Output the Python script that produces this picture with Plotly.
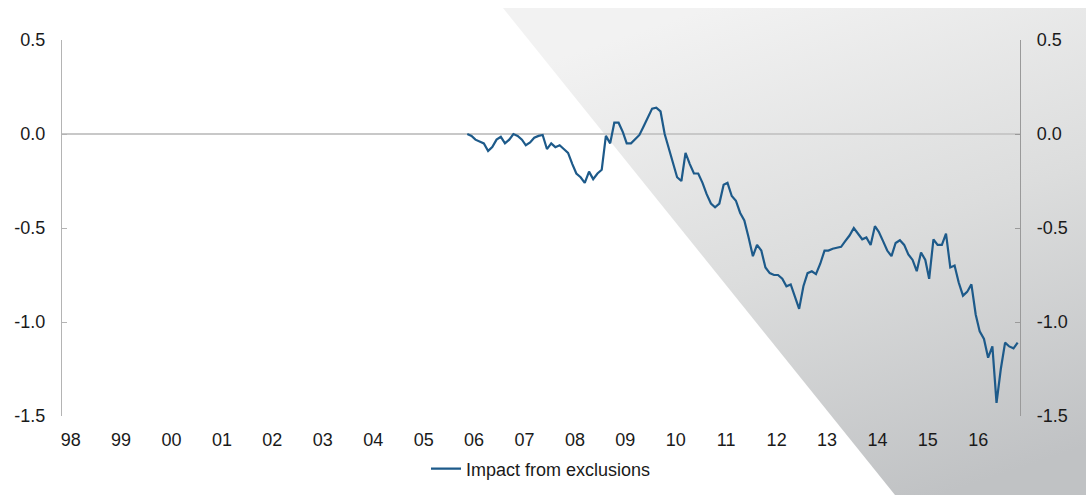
import base64
import pandas as pd
import plotly.graph_objects as go

# Monthly series, Jan 2006 - Dec 2016 (percentage points)
start_month = "2006-01-01"
impact_from_exclusions = [
    0.00, -0.01, -0.03, -0.04, -0.05, -0.09, -0.07, -0.03, -0.015, -0.05, -0.03, 0.00,
    -0.01, -0.03, -0.06, -0.045, -0.02, -0.01, -0.005, -0.08, -0.05, -0.07, -0.06, -0.08,
    -0.10, -0.16, -0.21, -0.23, -0.26, -0.20, -0.24, -0.21, -0.19, -0.01, -0.05, 0.06,
    0.06, 0.01, -0.05, -0.05, -0.03, -0.005, 0.04, 0.09, 0.135, 0.14, 0.12, 0.00,
    -0.08, -0.15, -0.23, -0.25, -0.10, -0.16, -0.21, -0.21, -0.26, -0.32, -0.37, -0.39,
    -0.37, -0.27, -0.26, -0.33, -0.355, -0.42, -0.46, -0.55, -0.65, -0.59, -0.62, -0.71,
    -0.74, -0.75, -0.75, -0.77, -0.81, -0.80, -0.87, -0.93, -0.81, -0.74, -0.73, -0.745,
    -0.69, -0.62, -0.62, -0.61, -0.605, -0.60, -0.57, -0.54, -0.50, -0.53, -0.56, -0.55,
    -0.59, -0.49, -0.52, -0.57, -0.62, -0.65, -0.58, -0.565, -0.59, -0.64, -0.67, -0.73,
    -0.63, -0.67, -0.77, -0.56, -0.59, -0.59, -0.53, -0.71, -0.70, -0.79, -0.86, -0.84,
    -0.80, -0.96, -1.05, -1.09, -1.19, -1.13, -1.43, -1.25, -1.11, -1.13, -1.14, -1.11,
]
years = list(range(1998, 2017))
year_labels = [f"{y % 100:02d}" for y in years]
y_ticks = [0.5, 0.0, -0.5, -1.0, -1.5]
y_tick_labels = ["0.5", "0.0", "-0.5", "-1.0", "-1.5"]

dates = pd.date_range(start_month, periods=len(impact_from_exclusions), freq="MS") + pd.Timedelta(days=14)

W, H = 1086, 495
ML, MR, MT, MB = 62, 66, 40, 79
PW, PH = W - ML - MR, H - MT - MB

FONT = "Liberation Sans, Arial, Helvetica, sans-serif"
FS = 18
TXT = "#1a1a1a"
AXIS = "#b4b4b4"
LINE = "#1d5a8a"

# Shaded wedge behind the chart, drawn as an inline SVG
svg = f"""<svg xmlns='http://www.w3.org/2000/svg' width='{W}' height='{H}' viewBox='0 0 {W} {H}'>
<defs><linearGradient id='g' x1='0.35' y1='0' x2='0.75' y2='1'>
<stop offset='0' stop-color='#f2f2f2'/><stop offset='0.5' stop-color='#dcdddd'/><stop offset='1' stop-color='#c0c2c4'/>
</linearGradient></defs>
<polygon points='503,8 {W},8 {W},{H} 895,{H}' fill='url(#g)'/>
</svg>"""
svg_uri = "data:image/svg+xml;base64," + base64.b64encode(svg.encode()).decode()

fig = go.Figure()
fig.add_trace(go.Scatter(
    x=dates, y=impact_from_exclusions, mode="lines",
    name="Impact from exclusions",
    line=dict(color=LINE, width=2.2),
))
# carrier trace for the right-hand axis
fig.add_trace(go.Scatter(
    x=dates, y=impact_from_exclusions, yaxis="y2", mode="lines",
    line=dict(color="rgba(0,0,0,0)", width=0), showlegend=False, hoverinfo="skip",
))

fig.update_layout(
    width=W, height=H,
    margin=dict(l=ML, r=MR, t=MT, b=MB, autoexpand=False),
    paper_bgcolor="white", plot_bgcolor="rgba(0,0,0,0)",
    font=dict(family=FONT, size=FS, color=TXT),
    showlegend=True,
    legend=dict(orientation="h", x=0.5, xanchor="center", y=-0.141, yanchor="middle",
                itemwidth=30, font=dict(size=FS, color=TXT), bgcolor="rgba(0,0,0,0)"),
    images=[dict(source=svg_uri, xref="paper", yref="paper",
                 x=-ML / PW, y=(PH + MT) / PH, sizex=W / PW, sizey=H / PH,
                 xanchor="left", yanchor="top", sizing="stretch", layer="below")],
    xaxis=dict(
        type="date", range=["1998-01-01", "2017-01-01"], automargin=False,
        tickmode="array",
        tickvals=[f"{y}-03-05" for y in years], ticktext=year_labels,
        ticks="", showline=False, showgrid=False, zeroline=False,
        ticklabelstandoff=11, tickfont=dict(size=FS, color=TXT),
    ),
    yaxis=dict(
        range=[-1.5, 0.5], automargin=False,
        tickmode="array", tickvals=y_ticks, ticktext=y_tick_labels,
        ticks="inside", ticklen=5, tickcolor=AXIS, tickwidth=1,
        showline=True, linecolor=AXIS, linewidth=1.2,
        showgrid=False, zeroline=True, zerolinecolor="#c8c8c8", zerolinewidth=1.5,
        ticklabelstandoff=12, tickfont=dict(size=FS, color=TXT),
    ),
    yaxis2=dict(
        overlaying="y", side="right", range=[-1.5, 0.5], automargin=False,
        tickmode="array", tickvals=y_ticks, ticktext=y_tick_labels,
        ticks="inside", ticklen=5, tickcolor="#9a9a9a", tickwidth=1,
        showline=True, linecolor="#9a9a9a", linewidth=1.2,
        showgrid=False, zeroline=False,
        ticklabelstandoff=12, tickfont=dict(size=FS, color=TXT),
    ),
)

fig.write_html("out.html")
